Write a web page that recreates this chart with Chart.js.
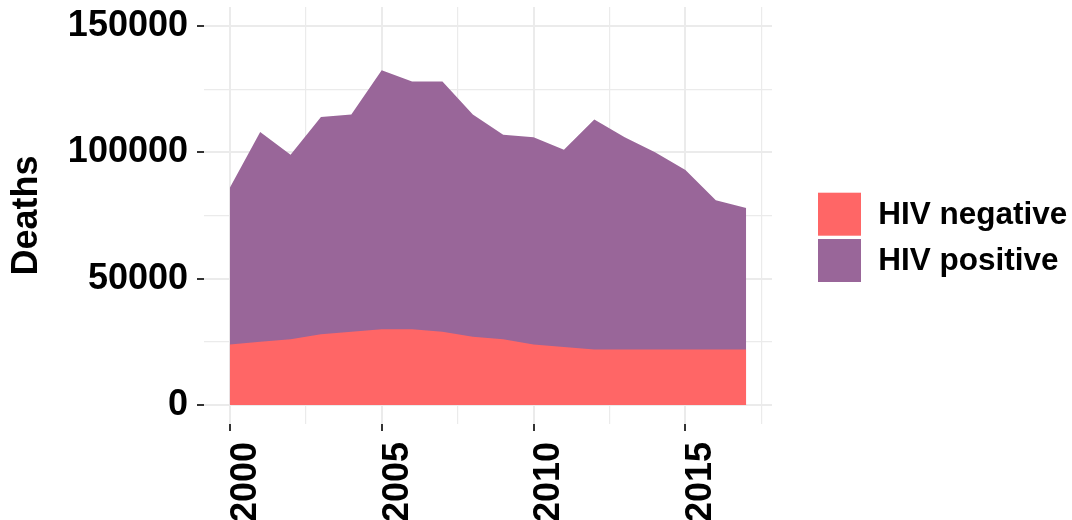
<!DOCTYPE html>
<html>
<head>
<meta charset="utf-8">
<script src="https://cdn.jsdelivr.net/npm/chart.js@4/dist/chart.umd.min.js"></script>
<style>
html,body{margin:0;padding:0;background:#ffffff;}
#wrap{width:1072px;height:520px;position:relative;overflow:hidden;}
canvas{display:block;}
</style>
</head>
<body>
<div id="wrap"><canvas id="c" width="1072" height="520"></canvas></div>
<script>
// ---- data ----
const years = [2000,2001,2002,2003,2004,2005,2006,2007,2008,2009,2010,2011,2012,2013,2014,2015,2016,2017];
const hivNegative = [24000,25000,26000,28000,29000,30000,30000,29000,27000,26000,24000,23000,22000,22000,22000,22000,22000,22000];
const hivPositive = [62000,83000,73000,86000,86000,102500,98000,99000,88000,81000,82000,78000,91000,84000,78000,71000,59000,56000];
const seriesNames = ['HIV negative','HIV positive'];
const seriesColors = ['#FF6666','#996699'];
const yMajorTicks = [0,50000,100000,150000];
const yMinorTicks = [25000,75000,125000];
const xMajorTicks = [2000,2005,2010,2015];
const xMinorTicks = [2002.5,2007.5,2012.5,2017.5];
const yTitle = 'Deaths';

const FONT = '"Liberation Sans", Arial, Helvetica, sans-serif';
Chart.defaults.font.family = FONT;
Chart.defaults.color = '#000000';

const isMajorY = v => yMajorTicks.includes(v);
const isMajorX = v => xMajorTicks.includes(v);

const sideLegend = {
  id: 'sideLegend',
  afterDraw(chart) {
    const ctx = chart.ctx;
    const boxX = 818, boxTop = 192.7, box = 43, step = 46.3, textX = 878.3;
    ctx.save();
    ctx.font = 'bold 31.5px ' + FONT;
    ctx.textBaseline = 'middle';
    ctx.textAlign = 'left';
    chart.data.datasets.forEach((ds, i) => {
      const y = boxTop + i * step;
      ctx.fillStyle = ds.backgroundColor;
      ctx.fillRect(boxX, y, box, box);
      ctx.fillStyle = '#000000';
      ctx.fillText(ds.label, textX, y + box / 2 + 1);
    });
    ctx.restore();
  }
};

new Chart(document.getElementById('c'), {
  type: 'line',
  data: {
    datasets: [
      {
        label: seriesNames[0],
        data: years.map((yr, i) => ({x: yr, y: hivNegative[i]})),
        backgroundColor: seriesColors[0],
        borderColor: seriesColors[0],
        borderWidth: 0,
        pointRadius: 0,
        fill: 'origin',
        tension: 0
      },
      {
        label: seriesNames[1],
        data: years.map((yr, i) => ({x: yr, y: hivPositive[i]})),
        backgroundColor: seriesColors[1],
        borderColor: seriesColors[1],
        borderWidth: 0,
        pointRadius: 0,
        fill: 'origin',
        tension: 0
      }
    ]
  },
  options: {
    responsive: false,
    animation: false,
    devicePixelRatio: 1,
    layout: {padding: {top: 7, right: 300, left: 0, bottom: 0}},
    plugins: {legend: {display: false}, tooltip: {enabled: false}},
    scales: {
      x: {
        type: 'linear',
        min: 1999.15,
        max: 2017.85,
        afterBuildTicks: s => { s.ticks = xMajorTicks.concat(xMinorTicks).sort((a,b)=>a-b).map(v => ({value: v})); },
        afterFit: s => { s.height = 96; s.paddingLeft = 0; s.paddingRight = 0; },
        border: {display: false},
        grid: {
          color: '#EBEBEB',
          lineWidth: c => isMajorX(c.tick.value) ? 2 : 1.2,
          drawTicks: true,
          tickLength: 7,
          tickWidth: 2,
          tickColor: c => isMajorX(c.tick.value) ? '#333333' : 'rgba(0,0,0,0)'
        },
        ticks: {
          autoSkip: false,
          minRotation: 90,
          maxRotation: 90,
          padding: 11,
          labelOffset: 16,
          font: {size: 36, weight: 'bold'},
          color: '#000000',
          callback: v => isMajorX(v) ? String(v) : ''
        }
      },
      y: {
        stacked: true,
        min: -7500,
        max: 157500,
        afterBuildTicks: s => { s.ticks = yMajorTicks.concat(yMinorTicks).sort((a,b)=>a-b).map(v => ({value: v})); },
        afterFit: s => { s.width = 204; s.paddingTop = 0; s.paddingBottom = 0; },
        border: {display: false},
        grid: {
          color: '#EBEBEB',
          lineWidth: c => isMajorY(c.tick.value) ? 2 : 1.2,
          drawTicks: true,
          tickLength: 7,
          tickWidth: 2,
          tickColor: c => isMajorY(c.tick.value) ? '#333333' : 'rgba(0,0,0,0)'
        },
        ticks: {
          autoSkip: false,
          padding: 9,
          font: {size: 36, weight: 'bold'},
          color: '#000000',
          callback: v => isMajorY(v) ? String(v) : ''
        },
        title: {
          display: true,
          text: yTitle,
          font: {size: 36, weight: 'bold'},
          color: '#000000',
          padding: {top: 5.4, bottom: 0}
        }
      }
    }
  },
  plugins: [sideLegend]
});
</script>
</body>
</html>
